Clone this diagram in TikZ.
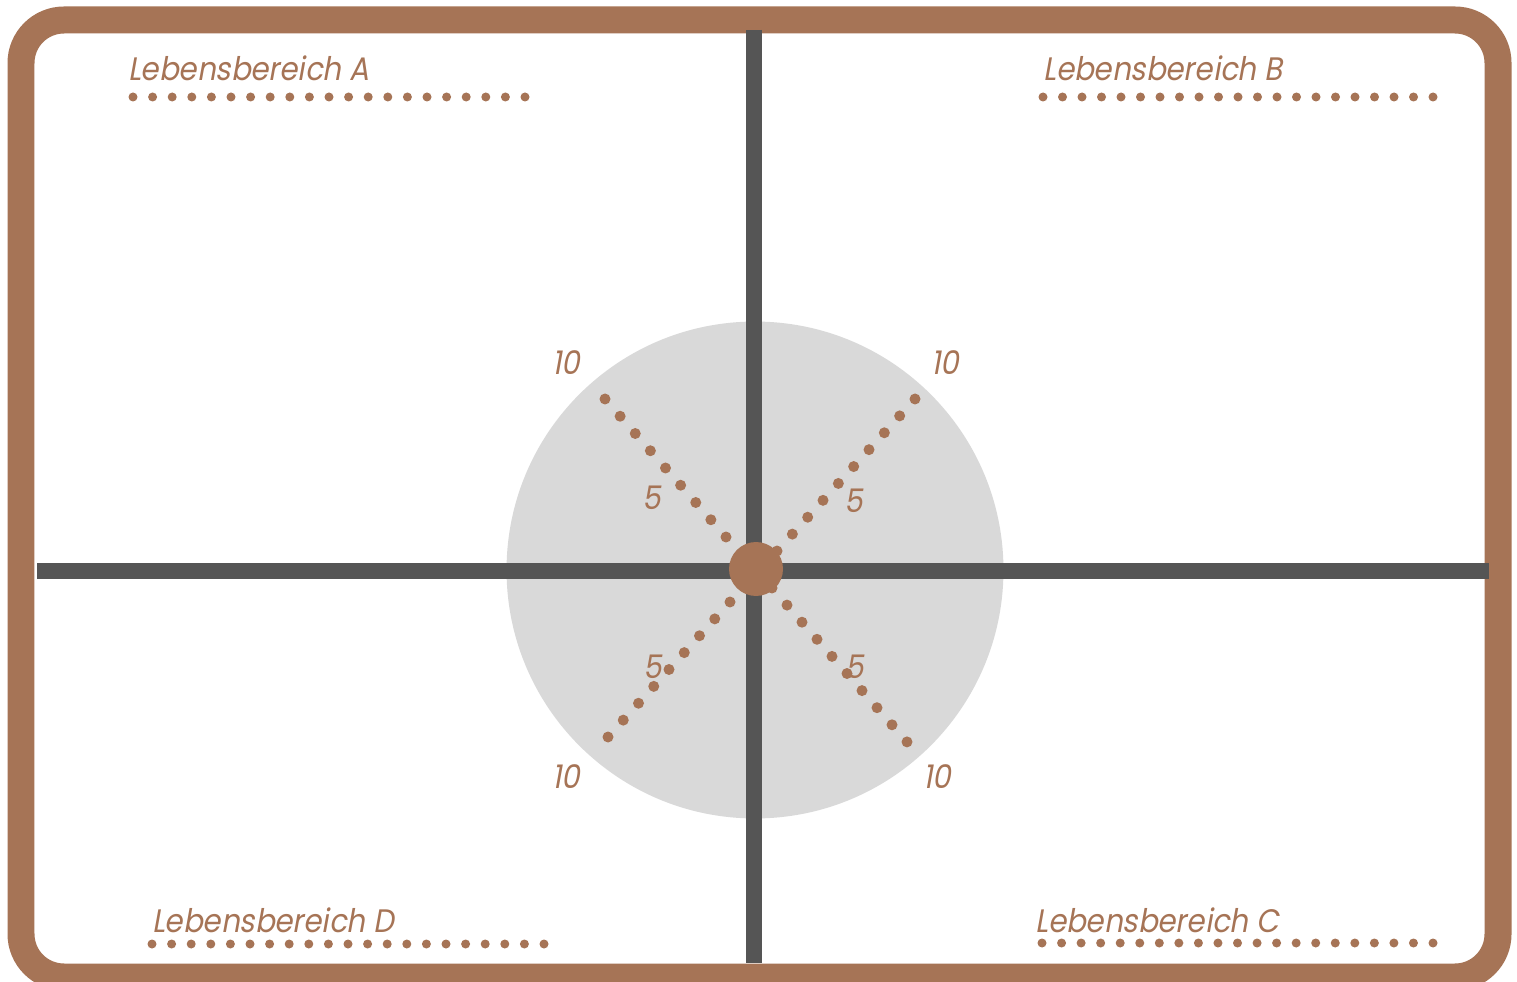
\documentclass[tikz,border=0pt]{standalone}
\usepackage{fontspec}
\setmainfont{Poppins}
\newfontfamily\lblfont[FakeSlant=0.18,FakeStretch=0.9]{Poppins}
\definecolor{frameBrown}{HTML}{A67456}
\definecolor{axisGray}{HTML}{555555}
\definecolor{discGray}{HTML}{D9D9D9}
\begin{document}
\begin{tikzpicture}[x=0.02cm,y=-0.02cm,
  lab/.style={font=\lblfont\fontsize{18.5}{20}\selectfont, text=frameBrown, inner sep=0, anchor=base west},
  num/.style={font=\lblfont\fontsize{18.5}{20}\selectfont, text=frameBrown, inner sep=0},
  axis/.style={draw=axisGray, line width=0.32cm},
  ldot/.style={fill=frameBrown},
]
\useasboundingbox (0,0) rectangle (1517,982);
\fill[white] (0,0) rectangle (1517,982);
% frame
\draw[frameBrown, line width=0.54cm, rounded corners=0.86cm] (21,20) rectangle (1498,977);
% disc
\node (disc) [circle, fill=discGray, minimum size=9.94cm, inner sep=0] at (755,570) {};
% axes
\coordinate (top) at (754,30);
\coordinate (bottom) at (754,963);
\coordinate (left) at (37,571);
\coordinate (right) at (1489,571);
\draw[axis] (top) -- (bottom);
\draw[axis] (left) -- (right);
% diagonal dots
\foreach \i in {0,...,8} {
  \fill[ldot] (605+\i*15.125, 399+\i*17.25) circle (0.11cm);
  \fill[ldot] (730-\i*15.25, 602+\i*16.875) circle (0.11cm);
}
\foreach \i in {0,...,9} {
  \fill[ldot] (915-\i*15.33, 399+\i*16.89) circle (0.11cm);
  \fill[ldot] (772+\i*15, 588+\i*17.1) circle (0.11cm);
}
% hub
\node (hub) [circle, fill=frameBrown, minimum size=1.08cm, inner sep=0] at (756,569) {};
% numbers
\node[num] (n10ul) at (566,363) {10};
\node[num] (n10ur) at (945,363) {10};
\node[num] (n10ll) at (566,777) {10};
\node[num] (n10lr) at (937,777) {10};
\node[num] (n5ul) at (652,498) {5};
\node[num] (n5ur) at (854,501) {5};
\node[num] (n5ll) at (653,667) {5};
\node[num] (n5lr) at (855,667) {5};
% labels
\node[lab] (labA) at (128,81) {Lebensbereich A};
\node[lab] (labB) at (1043,81) {Lebensbereich B};
\node[lab] (labC) at (1035,932) {Lebensbereich C};
\node[lab] (labD) at (152,932) {Lebensbereich D};
\foreach \i in {0,...,20} {
  \fill[ldot] (133+\i*19.6, 97) circle (0.09cm);
  \fill[ldot] (1043+\i*19.5, 97) circle (0.09cm);
  \fill[ldot] (1042+\i*19.55, 943) circle (0.09cm);
  \fill[ldot] (152+\i*19.6, 944) circle (0.09cm);
}
\end{tikzpicture}
\end{document}
